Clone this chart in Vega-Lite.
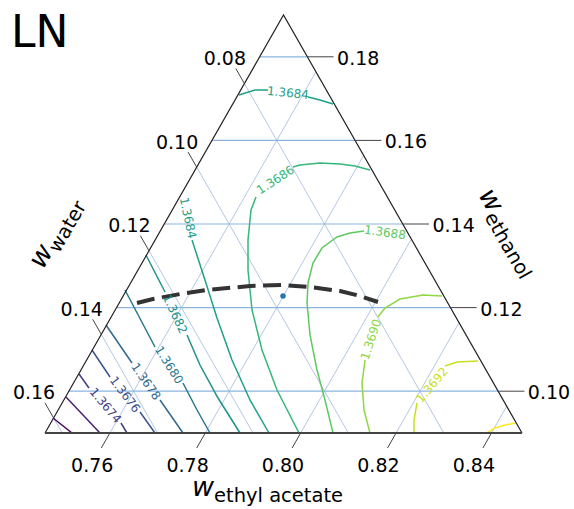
{
  "$schema": "https://vega.github.io/schema/vega-lite/v6.json",
  "width": 477,
  "height": 418,
  "autosize": "none",
  "padding": {"left": 45, "top": 15, "right": 52, "bottom": 76},
  "background": "white",
  "config": {"view": {"stroke": null}, "text": {"font": "DejaVu Sans"}},
  "datasets": {
    "gridDiag": [
      {"g": "ea76", "i": 0, "u": 0.76, "E": 0.09}, {"g": "ea76", "i": 1, "u": 0.8032, "E": 0.1764},
      {"g": "ea78", "i": 0, "u": 0.78, "E": 0.09}, {"g": "ea78", "i": 1, "u": 0.8132, "E": 0.1564},
      {"g": "ea80", "i": 0, "u": 0.80, "E": 0.09}, {"g": "ea80", "i": 1, "u": 0.8232, "E": 0.1364},
      {"g": "ea82", "i": 0, "u": 0.82, "E": 0.09}, {"g": "ea82", "i": 1, "u": 0.8332, "E": 0.1164},
      {"g": "ea84", "i": 0, "u": 0.84, "E": 0.09}, {"g": "ea84", "i": 1, "u": 0.8432, "E": 0.0964},
      {"g": "w08", "i": 0, "u": 0.7882, "E": 0.1736}, {"g": "w08", "i": 1, "u": 0.83, "E": 0.09},
      {"g": "w10", "i": 0, "u": 0.7782, "E": 0.1536}, {"g": "w10", "i": 1, "u": 0.81, "E": 0.09},
      {"g": "w12", "i": 0, "u": 0.7682, "E": 0.1336}, {"g": "w12", "i": 1, "u": 0.79, "E": 0.09},
      {"g": "w14", "i": 0, "u": 0.7582, "E": 0.1136}, {"g": "w14", "i": 1, "u": 0.77, "E": 0.09},
      {"g": "w16", "i": 0, "u": 0.7482, "E": 0.0936}, {"g": "w16", "i": 1, "u": 0.75, "E": 0.09}
    ],
    "gridH": [
      {"g": "e10", "i": 0, "u": 0.7514, "E": 0.10}, {"g": "e10", "i": 1, "u": 0.8414, "E": 0.10},
      {"g": "e12", "i": 0, "u": 0.7614, "E": 0.12}, {"g": "e12", "i": 1, "u": 0.8314, "E": 0.12},
      {"g": "e14", "i": 0, "u": 0.7714, "E": 0.14}, {"g": "e14", "i": 1, "u": 0.8214, "E": 0.14},
      {"g": "e16", "i": 0, "u": 0.7814, "E": 0.16}, {"g": "e16", "i": 1, "u": 0.8114, "E": 0.16},
      {"g": "e18", "i": 0, "u": 0.7914, "E": 0.18}, {"g": "e18", "i": 1, "u": 0.8014, "E": 0.18}
    ],
    "ticks": [
      {"g": "a76", "i": 0, "u": 0.76, "E": 0.09}, {"g": "a76", "i": 1, "u": 0.7582, "E": 0.0864},
      {"g": "a78", "i": 0, "u": 0.78, "E": 0.09}, {"g": "a78", "i": 1, "u": 0.7782, "E": 0.0864},
      {"g": "a80", "i": 0, "u": 0.80, "E": 0.09}, {"g": "a80", "i": 1, "u": 0.7982, "E": 0.0864},
      {"g": "a82", "i": 0, "u": 0.82, "E": 0.09}, {"g": "a82", "i": 1, "u": 0.8182, "E": 0.0864},
      {"g": "a84", "i": 0, "u": 0.84, "E": 0.09}, {"g": "a84", "i": 1, "u": 0.8382, "E": 0.0864},
      {"g": "w08", "i": 0, "u": 0.7882, "E": 0.1736}, {"g": "w08", "i": 1, "u": 0.7864, "E": 0.1772},
      {"g": "w10", "i": 0, "u": 0.7782, "E": 0.1536}, {"g": "w10", "i": 1, "u": 0.7764, "E": 0.1572},
      {"g": "w12", "i": 0, "u": 0.7682, "E": 0.1336}, {"g": "w12", "i": 1, "u": 0.7664, "E": 0.1372},
      {"g": "w14", "i": 0, "u": 0.7582, "E": 0.1136}, {"g": "w14", "i": 1, "u": 0.7564, "E": 0.1172},
      {"g": "w16", "i": 0, "u": 0.7482, "E": 0.0936}, {"g": "w16", "i": 1, "u": 0.7464, "E": 0.0972},
      {"g": "e10", "i": 0, "u": 0.8414, "E": 0.10}, {"g": "e10", "i": 1, "u": 0.8469, "E": 0.10},
      {"g": "e12", "i": 0, "u": 0.8314, "E": 0.12}, {"g": "e12", "i": 1, "u": 0.8369, "E": 0.12},
      {"g": "e14", "i": 0, "u": 0.8214, "E": 0.14}, {"g": "e14", "i": 1, "u": 0.8269, "E": 0.14},
      {"g": "e16", "i": 0, "u": 0.8114, "E": 0.16}, {"g": "e16", "i": 1, "u": 0.8169, "E": 0.16},
      {"g": "e18", "i": 0, "u": 0.8014, "E": 0.18}, {"g": "e18", "i": 1, "u": 0.8069, "E": 0.18}
    ],
    "frame": [
      {"i": 0, "u": 0.7464, "E": 0.09}, {"i": 1, "u": 0.7964, "E": 0.19}, {"i": 2, "u": 0.8464, "E": 0.09}
    ],
    "base": [
      {"i": 0, "u": 0.7464, "E": 0.09}, {"i": 1, "u": 0.8464, "E": 0.09}
    ],
    "contours": [
      {"level": "1.3670", "s": "70a", "i": 0, "u": 0.74808, "E": 0.09359}, {"level": "1.3670", "s": "70a", "i": 1, "u": 0.75206, "E": 0.09},
      {"level": "1.3672", "s": "72a", "i": 0, "u": 0.7508, "E": 0.09861}, {"level": "1.3672", "s": "72a", "i": 1, "u": 0.75793, "E": 0.09},
      {"level": "1.3674", "s": "74a", "i": 0, "u": 0.75353, "E": 0.10412}, {"level": "1.3674", "s": "74a", "i": 1, "u": 0.75562, "E": 0.10077},
      {"level": "1.3674", "s": "74b", "i": 0, "u": 0.76233, "E": 0.09239}, {"level": "1.3674", "s": "74b", "i": 1, "u": 0.76359, "E": 0.09},
      {"level": "1.3676", "s": "76a", "i": 0, "u": 0.75625, "E": 0.10986}, {"level": "1.3676", "s": "76a", "i": 1, "u": 0.76003, "E": 0.1034},
      {"level": "1.3676", "s": "76b", "i": 0, "u": 0.76632, "E": 0.09503}, {"level": "1.3676", "s": "76b", "i": 1, "u": 0.76946, "E": 0.09},
      {"level": "1.3678", "s": "78a", "i": 0, "u": 0.75919, "E": 0.11584}, {"level": "1.3678", "s": "78a", "i": 1, "u": 0.76464, "E": 0.10675},
      {"level": "1.3678", "s": "78b", "i": 0, "u": 0.77051, "E": 0.0979}, {"level": "1.3678", "s": "78b", "i": 1, "u": 0.77533, "E": 0.09},
      {"level": "1.3680", "s": "80a", "i": 0, "u": 0.76317, "E": 0.12421}, {"level": "1.3680", "s": "80a", "i": 1, "u": 0.76946, "E": 0.11058},
      {"level": "1.3680", "s": "80b", "i": 0, "u": 0.77533, "E": 0.10196}, {"level": "1.3680", "s": "80b", "i": 1, "u": 0.77827, "E": 0.0955}, {"level": "1.3680", "s": "80b", "i": 2, "u": 0.78099, "E": 0.09},
      {"level": "1.3682", "s": "82a", "i": 0, "u": 0.76757, "E": 0.13258}, {"level": "1.3682", "s": "82a", "i": 1, "u": 0.77156, "E": 0.12373},
      {"level": "1.3682", "s": "82b", "i": 0, "u": 0.77617, "E": 0.11345}, {"level": "1.3682", "s": "82b", "i": 1, "u": 0.77889, "E": 0.10627}, {"level": "1.3682", "s": "82b", "i": 2, "u": 0.78267, "E": 0.09837}, {"level": "1.3682", "s": "82b", "i": 3, "u": 0.78728, "E": 0.09},
      {"level": "1.3684", "s": "84Lb", "i": 0, "u": 0.77722, "E": 0.13617}, {"level": "1.3684", "s": "84Lb", "i": 1, "u": 0.77994, "E": 0.1266}, {"level": "1.3684", "s": "84Lb", "i": 2, "u": 0.78246, "E": 0.11751}, {"level": "1.3684", "s": "84Lb", "i": 3, "u": 0.7856, "E": 0.10747}, {"level": "1.3684", "s": "84Lb", "i": 4, "u": 0.78938, "E": 0.0979}, {"level": "1.3684", "s": "84Lb", "i": 5, "u": 0.79336, "E": 0.09},
      {"level": "1.3684", "s": "84Ta", "i": 0, "u": 0.78707, "E": 0.17086}, {"level": "1.3684", "s": "84Ta", "i": 1, "u": 0.79042, "E": 0.17206}, {"level": "1.3684", "s": "84Ta", "i": 2, "u": 0.79315, "E": 0.17206},
      {"level": "1.3684", "s": "84Tb", "i": 0, "u": 0.80154, "E": 0.17038}, {"level": "1.3684", "s": "84Tb", "i": 1, "u": 0.80405, "E": 0.16967}, {"level": "1.3684", "s": "84Tb", "i": 2, "u": 0.80678, "E": 0.16871},
      {"level": "1.3686", "s": "86a", "i": 0, "u": 0.81453, "E": 0.15292}, {"level": "1.3686", "s": "86a", "i": 1, "u": 0.81139, "E": 0.15388}, {"level": "1.3686", "s": "86a", "i": 2, "u": 0.80825, "E": 0.15435}, {"level": "1.3686", "s": "86a", "i": 3, "u": 0.80405, "E": 0.15459}, {"level": "1.3686", "s": "86a", "i": 4, "u": 0.79986, "E": 0.15412}, {"level": "1.3686", "s": "86a", "i": 5, "u": 0.79839, "E": 0.15364},
      {"level": "1.3686", "s": "86b", "i": 0, "u": 0.79063, "E": 0.14646}, {"level": "1.3686", "s": "86b", "i": 1, "u": 0.78959, "E": 0.14335}, {"level": "1.3686", "s": "86b", "i": 2, "u": 0.78896, "E": 0.13617}, {"level": "1.3686", "s": "86b", "i": 3, "u": 0.78896, "E": 0.129}, {"level": "1.3686", "s": "86b", "i": 4, "u": 0.7898, "E": 0.11943}, {"level": "1.3686", "s": "86b", "i": 5, "u": 0.79189, "E": 0.10986}, {"level": "1.3686", "s": "86b", "i": 6, "u": 0.79504, "E": 0.10029}, {"level": "1.3686", "s": "86b", "i": 7, "u": 0.79965, "E": 0.09},
      {"level": "1.3688", "s": "88a", "i": 0, "u": 0.81328, "E": 0.13833}, {"level": "1.3688", "s": "88a", "i": 1, "u": 0.81034, "E": 0.13785}, {"level": "1.3688", "s": "88a", "i": 2, "u": 0.80762, "E": 0.13689}, {"level": "1.3688", "s": "88a", "i": 3, "u": 0.80447, "E": 0.13426}, {"level": "1.3688", "s": "88a", "i": 4, "u": 0.80258, "E": 0.13067}, {"level": "1.3688", "s": "88a", "i": 5, "u": 0.80154, "E": 0.12589}, {"level": "1.3688", "s": "88a", "i": 6, "u": 0.80133, "E": 0.1211}, {"level": "1.3688", "s": "88a", "i": 7, "u": 0.80196, "E": 0.11345}, {"level": "1.3688", "s": "88a", "i": 8, "u": 0.80342, "E": 0.10507}, {"level": "1.3688", "s": "88a", "i": 9, "u": 0.8051, "E": 0.0979}, {"level": "1.3688", "s": "88a", "i": 10, "u": 0.80678, "E": 0.09},
      {"level": "1.3690", "s": "90a", "i": 0, "u": 0.82963, "E": 0.12278}, {"level": "1.3690", "s": "90a", "i": 1, "u": 0.82565, "E": 0.12301}, {"level": "1.3690", "s": "90a", "i": 2, "u": 0.82082, "E": 0.12206}, {"level": "1.3690", "s": "90a", "i": 3, "u": 0.81768, "E": 0.1199}, {"level": "1.3690", "s": "90a", "i": 4, "u": 0.81621, "E": 0.11775},
      {"level": "1.3690", "s": "90b", "i": 0, "u": 0.81349, "E": 0.10747}, {"level": "1.3690", "s": "90b", "i": 1, "u": 0.81286, "E": 0.10196}, {"level": "1.3690", "s": "90b", "i": 2, "u": 0.81328, "E": 0.0955}, {"level": "1.3690", "s": "90b", "i": 3, "u": 0.81453, "E": 0.09},
      {"level": "1.3692", "s": "92a", "i": 0, "u": 0.83718, "E": 0.10723}, {"level": "1.3692", "s": "92a", "i": 1, "u": 0.83277, "E": 0.10699}, {"level": "1.3692", "s": "92a", "i": 2, "u": 0.83026, "E": 0.10603},
      {"level": "1.3692", "s": "92b", "i": 0, "u": 0.82439, "E": 0.09718}, {"level": "1.3692", "s": "92b", "i": 1, "u": 0.82376, "E": 0.09311}, {"level": "1.3692", "s": "92b", "i": 2, "u": 0.82376, "E": 0.09},
      {"level": "1.3694", "s": "94a", "i": 0, "u": 0.83906, "E": 0.09}, {"level": "1.3694", "s": "94a", "i": 1, "u": 0.84074, "E": 0.0912}, {"level": "1.3694", "s": "94a", "i": 2, "u": 0.84284, "E": 0.09192}, {"level": "1.3694", "s": "94a", "i": 3, "u": 0.84514, "E": 0.09239}
    ],
    "clabels": [
      {"id": "74", "level": "1.3674", "u": 0.75908, "E": 0.09658},
      {"id": "76", "level": "1.3676", "u": 0.76317, "E": 0.09921},
      {"id": "78", "level": "1.3678", "u": 0.76757, "E": 0.10232},
      {"id": "80", "level": "1.3680", "u": 0.7724, "E": 0.10627},
      {"id": "82", "level": "1.3682", "u": 0.77365, "E": 0.11847},
      {"id": "84L", "level": "1.3684", "u": 0.77638, "E": 0.14144},
      {"id": "84T", "level": "1.3684", "u": 0.79734, "E": 0.17134},
      {"id": "86", "level": "1.3686", "u": 0.79472, "E": 0.15053},
      {"id": "88", "level": "1.3688", "u": 0.81768, "E": 0.13797},
      {"id": "90", "level": "1.3690", "u": 0.81474, "E": 0.11237},
      {"id": "92", "level": "1.3692", "u": 0.82753, "E": 0.10148}
    ],
    "eaLabels": [
      {"t": "0.76", "u": 0.7563, "E": 0.0807}, {"t": "0.78", "u": 0.7763, "E": 0.0807},
      {"t": "0.80", "u": 0.7963, "E": 0.0807}, {"t": "0.82", "u": 0.8163, "E": 0.0807},
      {"t": "0.84", "u": 0.8363, "E": 0.0807}
    ],
    "waterLabels": [
      {"t": "0.08", "u": 0.78854, "E": 0.17804}, {"t": "0.10", "u": 0.77854, "E": 0.15804},
      {"t": "0.12", "u": 0.76854, "E": 0.13804}, {"t": "0.14", "u": 0.75854, "E": 0.11804},
      {"t": "0.16", "u": 0.74854, "E": 0.09804}
    ],
    "ethanolLabels": [
      {"t": "0.18", "u": 0.80763, "E": 0.1781}, {"t": "0.16", "u": 0.81763, "E": 0.1581},
      {"t": "0.14", "u": 0.82763, "E": 0.1381}, {"t": "0.12", "u": 0.83763, "E": 0.1181},
      {"t": "0.10", "u": 0.84763, "E": 0.0981}
    ],
    "dashed": [
      {"i": 0, "u": 0.76569, "E": 0.1211}, {"i": 1, "u": 0.76904, "E": 0.12206},
      {"i": 2, "u": 0.7747, "E": 0.12325}, {"i": 3, "u": 0.78036, "E": 0.12421},
      {"i": 4, "u": 0.78938, "E": 0.12517}, {"i": 5, "u": 0.7963, "E": 0.12541},
      {"i": 6, "u": 0.80196, "E": 0.12493}, {"i": 7, "u": 0.80825, "E": 0.12397},
      {"i": 8, "u": 0.81244, "E": 0.12278}, {"i": 9, "u": 0.81621, "E": 0.12134}
    ],
    "point": [{"u": 0.7963, "E": 0.12278}],
    "titles": [
      {"id": "LN", "t": "LN", "u": 0.73927, "E": 0.18234},
      {"id": "bw", "t": "w", "u": 0.77722, "E": 0.07493},
      {"id": "bs", "t": "ethyl acetate", "u": 0.78183, "E": 0.07349},
      {"id": "lw", "t": "w", "u": 0.74598, "E": 0.129},
      {"id": "ls", "t": "water", "u": 0.74934, "E": 0.13282},
      {"id": "rw", "t": "w", "u": 0.83718, "E": 0.14694},
      {"id": "rs", "t": "ethanol", "u": 0.83843, "E": 0.14168}
    ]
  },
  "encoding": {
    "x": {"field": "u", "type": "quantitative", "scale": {"domain": [0.7464, 0.8464], "nice": false, "zero": false}, "axis": null},
    "y": {"field": "E", "type": "quantitative", "scale": {"domain": [0.09, 0.19], "nice": false, "zero": false}, "axis": null}
  },
  "layer": [
    {"data": {"name": "gridDiag"}, "mark": {"type": "line", "color": "#b3c6e4", "strokeWidth": 1},
     "encoding": {"detail": {"field": "g"}, "order": {"field": "i"}}},
    {"data": {"name": "gridH"}, "mark": {"type": "line", "color": "#8bb3e0", "strokeWidth": 1.2},
     "encoding": {"detail": {"field": "g"}, "order": {"field": "i"}}},
    {"data": {"name": "contours"}, "mark": {"type": "line", "strokeWidth": 1.5},
     "encoding": {"detail": {"field": "s"}, "order": {"field": "i"},
       "color": {"field": "level", "type": "nominal", "legend": null,
         "scale": {"domain": ["1.3670","1.3672","1.3674","1.3676","1.3678","1.3680","1.3682","1.3684","1.3686","1.3688","1.3690","1.3692","1.3694"],
                   "range": ["#440154","#482173","#433e85","#3b528b","#31688e","#2a788e","#21918c","#1fa088","#35b779","#5ec962","#90d743","#c8e020","#fde725"]}}}},
    {"data": {"name": "dashed"}, "mark": {"type": "line", "color": "#333333", "strokeWidth": 4, "strokeDash": [18, 7.5]},
     "encoding": {"order": {"field": "i"}}},
    {"data": {"name": "point"}, "mark": {"type": "circle", "color": "#1f77b4", "opacity": 1, "size": 30}, "encoding": {}},
    {"data": {"name": "frame"}, "mark": {"type": "line", "color": "#222222", "strokeWidth": 1.2},
     "encoding": {"order": {"field": "i"}}},
    {"data": {"name": "base"}, "mark": {"type": "line", "color": "#444444", "strokeWidth": 2.2},
     "encoding": {"order": {"field": "i"}}},
    {"data": {"name": "ticks"}, "mark": {"type": "line", "color": "#444444", "strokeWidth": 1},
     "encoding": {"detail": {"field": "g"}, "order": {"field": "i"}}},
    {"data": {"name": "eaLabels"}, "mark": {"type": "text", "fontSize": 19, "align": "center", "baseline": "alphabetic", "color": "black", "font": "DejaVu Sans"},
     "encoding": {"text": {"field": "t"}}},
    {"data": {"name": "waterLabels"}, "mark": {"type": "text", "fontSize": 19, "align": "right", "baseline": "alphabetic", "color": "black", "font": "DejaVu Sans"},
     "encoding": {"text": {"field": "t"}}},
    {"data": {"name": "ethanolLabels"}, "mark": {"type": "text", "fontSize": 19, "align": "left", "baseline": "alphabetic", "color": "black", "font": "DejaVu Sans"},
     "encoding": {"text": {"field": "t"}}},
    {"data": {"name": "clabels"}, "transform": [{"filter": "datum.id == '74'"}], "mark": {"type": "text", "fontSize": 12, "angle": 50, "align": "center", "baseline": "middle", "font": "DejaVu Sans"},
     "encoding": {"text": {"field": "level"}, "color": {"field": "level", "type": "nominal", "legend": null}}},
    {"data": {"name": "clabels"}, "transform": [{"filter": "datum.id == '76'"}], "mark": {"type": "text", "fontSize": 12, "angle": 53, "align": "center", "baseline": "middle", "font": "DejaVu Sans"},
     "encoding": {"text": {"field": "level"}, "color": {"field": "level", "type": "nominal", "legend": null}}},
    {"data": {"name": "clabels"}, "transform": [{"filter": "datum.id == '78'"}], "mark": {"type": "text", "fontSize": 12, "angle": 55, "align": "center", "baseline": "middle", "font": "DejaVu Sans"},
     "encoding": {"text": {"field": "level"}, "color": {"field": "level", "type": "nominal", "legend": null}}},
    {"data": {"name": "clabels"}, "transform": [{"filter": "datum.id == '80'"}], "mark": {"type": "text", "fontSize": 12, "angle": 58, "align": "center", "baseline": "middle", "font": "DejaVu Sans"},
     "encoding": {"text": {"field": "level"}, "color": {"field": "level", "type": "nominal", "legend": null}}},
    {"data": {"name": "clabels"}, "transform": [{"filter": "datum.id == '82'"}], "mark": {"type": "text", "fontSize": 12, "angle": 65, "align": "center", "baseline": "middle", "font": "DejaVu Sans"},
     "encoding": {"text": {"field": "level"}, "color": {"field": "level", "type": "nominal", "legend": null}}},
    {"data": {"name": "clabels"}, "transform": [{"filter": "datum.id == '84L'"}], "mark": {"type": "text", "fontSize": 12, "angle": 78, "align": "center", "baseline": "middle", "font": "DejaVu Sans"},
     "encoding": {"text": {"field": "level"}, "color": {"field": "level", "type": "nominal", "legend": null}}},
    {"data": {"name": "clabels"}, "transform": [{"filter": "datum.id == '84T'"}], "mark": {"type": "text", "fontSize": 12, "angle": 6, "align": "center", "baseline": "middle", "font": "DejaVu Sans"},
     "encoding": {"text": {"field": "level"}, "color": {"field": "level", "type": "nominal", "legend": null}}},
    {"data": {"name": "clabels"}, "transform": [{"filter": "datum.id == '86'"}], "mark": {"type": "text", "fontSize": 12, "angle": -33, "align": "center", "baseline": "middle", "font": "DejaVu Sans"},
     "encoding": {"text": {"field": "level"}, "color": {"field": "level", "type": "nominal", "legend": null}}},
    {"data": {"name": "clabels"}, "transform": [{"filter": "datum.id == '88'"}], "mark": {"type": "text", "fontSize": 12, "angle": 8, "align": "center", "baseline": "middle", "font": "DejaVu Sans"},
     "encoding": {"text": {"field": "level"}, "color": {"field": "level", "type": "nominal", "legend": null}}},
    {"data": {"name": "clabels"}, "transform": [{"filter": "datum.id == '90'"}], "mark": {"type": "text", "fontSize": 12, "angle": -72, "align": "center", "baseline": "middle", "font": "DejaVu Sans"},
     "encoding": {"text": {"field": "level"}, "color": {"field": "level", "type": "nominal", "legend": null}}},
    {"data": {"name": "clabels"}, "transform": [{"filter": "datum.id == '92'"}], "mark": {"type": "text", "fontSize": 12, "angle": -50, "align": "center", "baseline": "middle", "font": "DejaVu Sans"},
     "encoding": {"text": {"field": "level"}, "color": {"field": "level", "type": "nominal", "legend": null}}},
    {"data": {"name": "titles"}, "transform": [{"filter": "datum.id == 'LN'"}], "mark": {"type": "text", "fontSize": 44, "align": "left", "baseline": "alphabetic", "color": "black", "font": "DejaVu Sans"},
     "encoding": {"text": {"field": "t"}}},
    {"data": {"name": "titles"}, "transform": [{"filter": "datum.id == 'bw'"}], "mark": {"type": "text", "fontSize": 27, "fontStyle": "italic", "align": "left", "baseline": "alphabetic", "color": "black", "font": "DejaVu Sans"},
     "encoding": {"text": {"field": "t"}}},
    {"data": {"name": "titles"}, "transform": [{"filter": "datum.id == 'bs'"}], "mark": {"type": "text", "fontSize": 19.5, "align": "left", "baseline": "alphabetic", "color": "black", "font": "DejaVu Sans"},
     "encoding": {"text": {"field": "t"}}},
    {"data": {"name": "titles"}, "transform": [{"filter": "datum.id == 'lw'"}], "mark": {"type": "text", "fontSize": 27, "fontStyle": "italic", "angle": -60, "align": "left", "baseline": "alphabetic", "color": "black", "font": "DejaVu Sans"},
     "encoding": {"text": {"field": "t"}}},
    {"data": {"name": "titles"}, "transform": [{"filter": "datum.id == 'ls'"}], "mark": {"type": "text", "fontSize": 19.5, "angle": -60, "align": "left", "baseline": "alphabetic", "color": "black", "font": "DejaVu Sans"},
     "encoding": {"text": {"field": "t"}}},
    {"data": {"name": "titles"}, "transform": [{"filter": "datum.id == 'rw'"}], "mark": {"type": "text", "fontSize": 27, "fontStyle": "italic", "angle": 60, "align": "left", "baseline": "alphabetic", "color": "black", "font": "DejaVu Sans"},
     "encoding": {"text": {"field": "t"}}},
    {"data": {"name": "titles"}, "transform": [{"filter": "datum.id == 'rs'"}], "mark": {"type": "text", "fontSize": 19.5, "angle": 60, "align": "left", "baseline": "alphabetic", "color": "black", "font": "DejaVu Sans"},
     "encoding": {"text": {"field": "t"}}}
  ]
}
